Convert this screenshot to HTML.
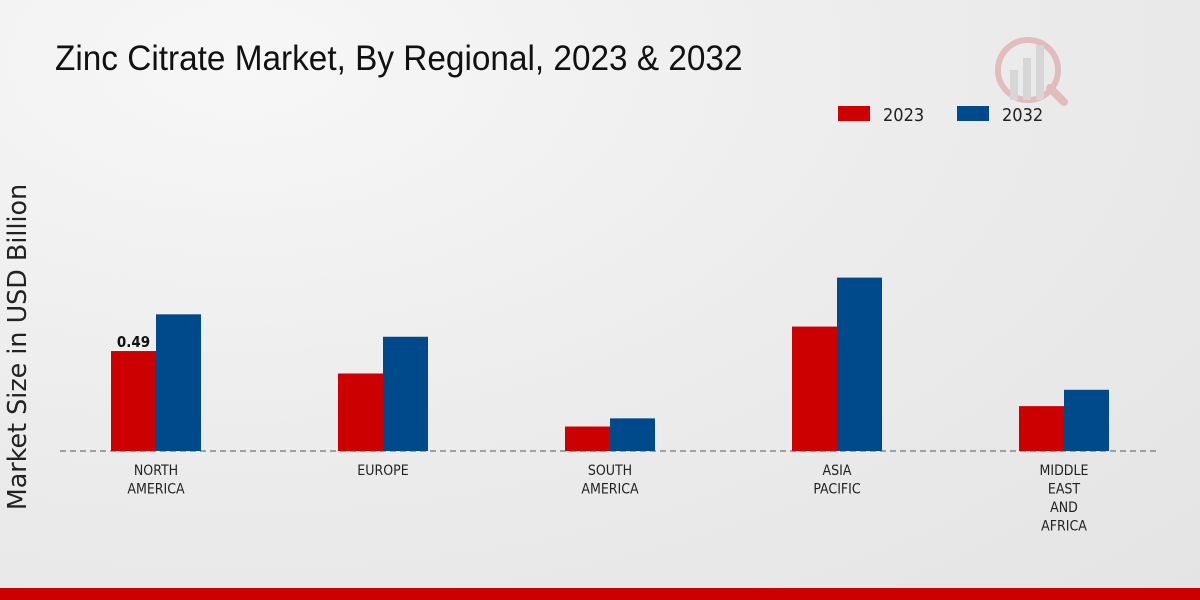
<!DOCTYPE html>
<html><head><meta charset="utf-8"><style>
body{margin:0;width:1200px;height:600px;overflow:hidden;font-family:"Liberation Sans",sans-serif;}
#bg{position:absolute;left:0;top:0;width:1200px;height:600px;background:radial-gradient(ellipse at 20% 10%,#f7f7f7 0%,#ececec 50%,#e4e4e4 100%);}
</style></head><body>
<div id="bg"></div>
<svg id="c" width="1200" height="600" style="position:absolute;left:0;top:0">
<text x="55" y="70" font-size="35" fill="#111" font-family="Liberation Sans, sans-serif" transform="scale(0.953,1)" transform-origin="55 70">Zinc Citrate Market, By Regional, 2023 &amp; 2032</text>
<g font-family="DejaVu Sans Condensed, DejaVu Sans, sans-serif">
<rect x="838" y="106" width="32" height="15" fill="#cc0000"/>
<text x="883" y="121" font-size="18" fill="#222">2023</text>
<rect x="957" y="106" width="32" height="15" fill="#004a8c"/>
<text x="1002" y="121" font-size="18" fill="#222">2032</text>
</g>
<text x="0" y="0" font-size="25.4" fill="#222" font-family="DejaVu Sans, sans-serif" transform="translate(26,347) rotate(-90)" text-anchor="middle">Market Size in USD Billion</text>
<g id="logo" opacity="0.25">
<circle cx="1028" cy="70" r="30" fill="none" stroke="#cc3333" stroke-width="6"/>
<rect x="1010" y="70" width="8" height="30" fill="#999"/><rect x="1023" y="58" width="8" height="42" fill="#999"/><rect x="1036" y="45" width="8" height="55" fill="#999"/>
<line x1="1050" y1="88" x2="1064" y2="102" stroke="#cc3333" stroke-width="8" stroke-linecap="round"/>
</g>
<g id="plot" font-family="DejaVu Sans Condensed, DejaVu Sans, sans-serif"></g>
<rect x="0" y="588" width="1200" height="12" fill="#cc0000"/>
</svg>
<script>
const categories=[["NORTH","AMERICA"],["EUROPE"],["SOUTH","AMERICA"],["ASIA","PACIFIC"],["MIDDLE","EAST","AND","AFRICA"]];
const values2023=[0.49,0.38,0.12,0.61,0.22];
const values2032=[0.67,0.56,0.16,0.85,0.30];
const labels2023=["0.49",null,null,null,null];
const ns="http://www.w3.org/2000/svg";
const g=document.getElementById("plot");
const base=451,scale=204,x0=156,step=227,bw=45;
function y(v){return base-v*scale;}
function xc(i){return x0+i*step;}
function mk(t,a){const e=document.createElementNS(ns,t);for(const k in a)e.setAttribute(k,a[k]);g.appendChild(e);return e;}
let ax=mk("line",{x1:60,x2:1160,y1:base,y2:base,stroke:"#555","stroke-dasharray":"6,4","stroke-width":1});


categories.forEach((c,i)=>{
  let r=mk("rect",{x:xc(i)-bw,y:y(values2023[i]),width:bw,height:values2023[i]*scale,fill:"#cc0000"});
  
  
  let b=mk("rect",{x:xc(i),y:y(values2032[i]),width:bw,height:values2032[i]*scale,fill:"#004a8c"});
  
  
  if(labels2023[i]){let t=mk("text",{x:xc(i)-bw/2,y:y(values2023[i])-4,"text-anchor":"middle","font-size":15,"font-weight":"bold",fill:"#111"});t.textContent=labels2023[i];
  
  }
  c.forEach((line,j)=>{let t=mk("text",{x:xc(i),y:475+j*18.5,"text-anchor":"middle","font-size":14,fill:"#222"});t.textContent=line;
  
  });
});
</script>
</body></html>
